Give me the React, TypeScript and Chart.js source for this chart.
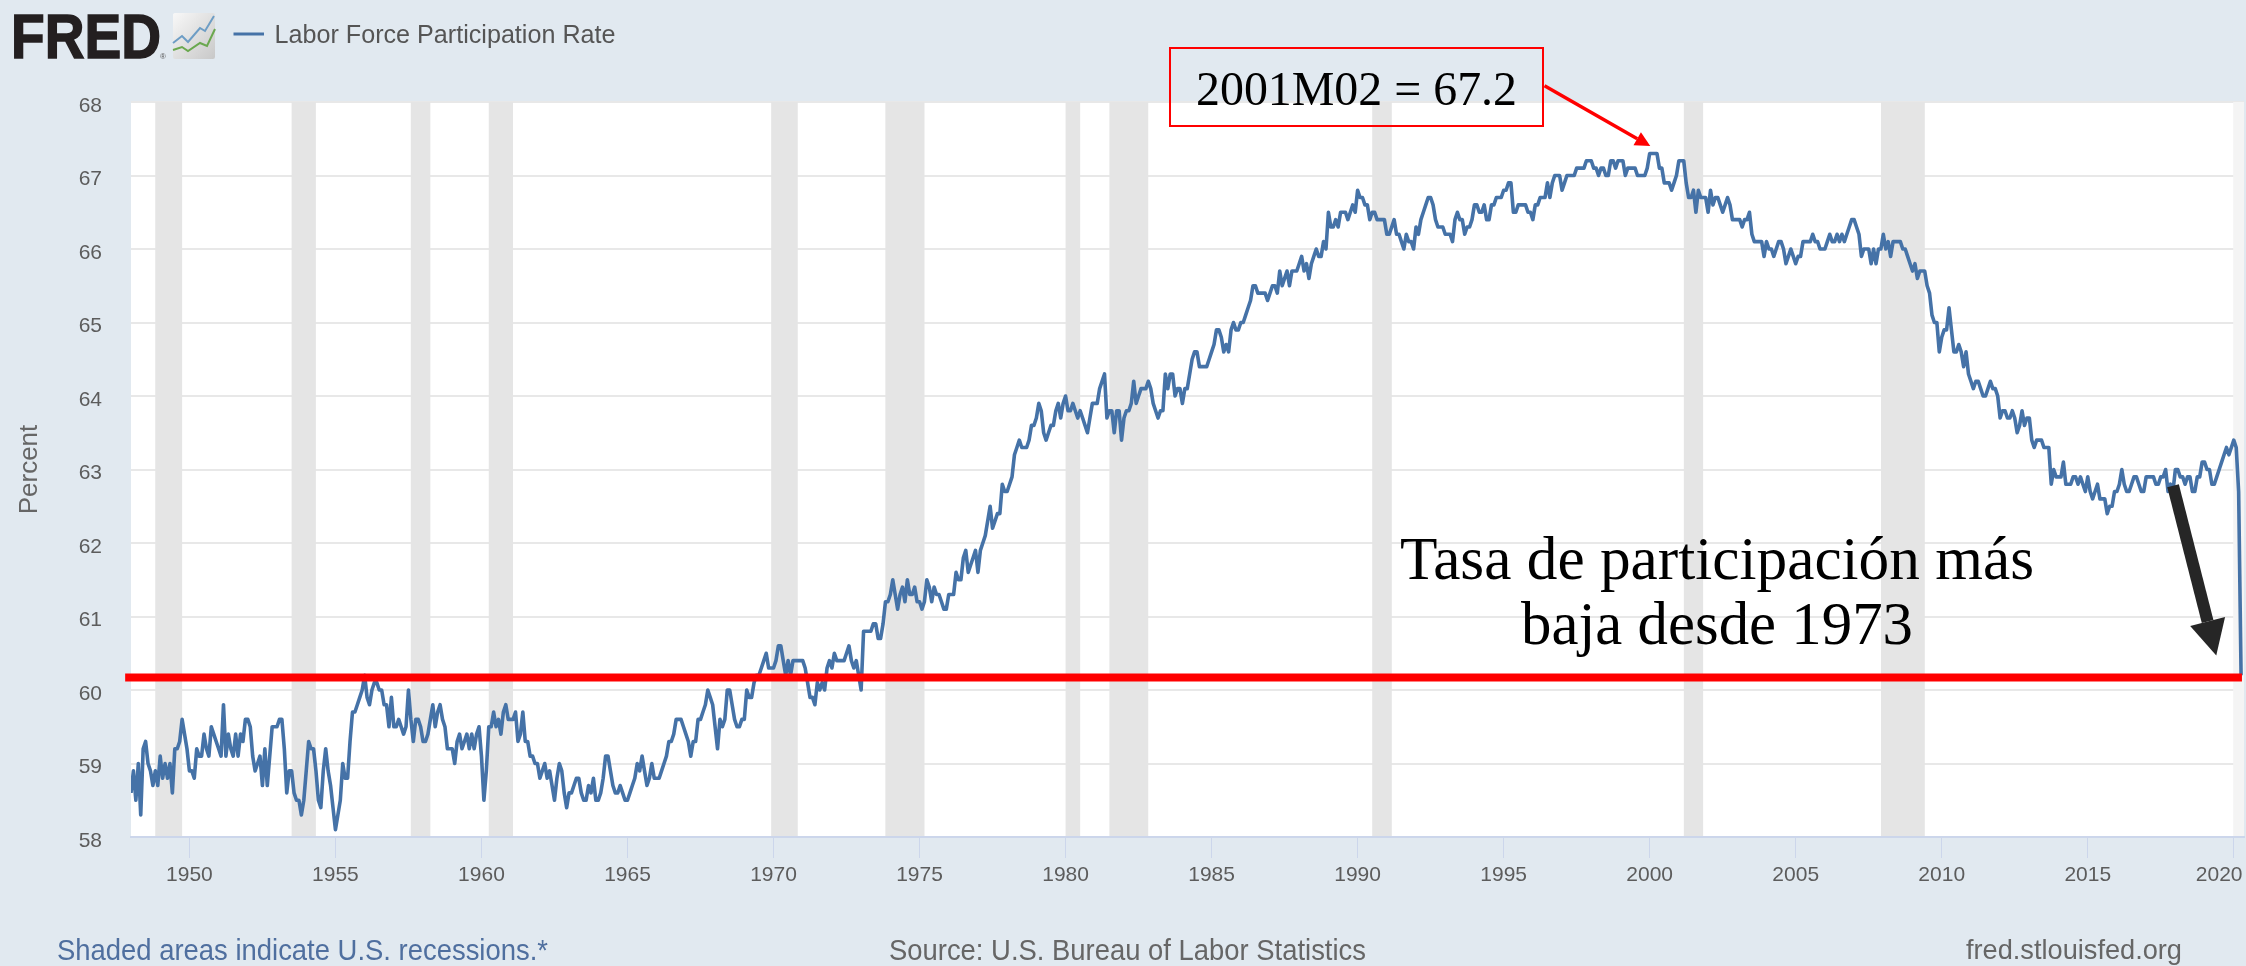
import React, { useEffect, useRef } from "react";
import { Chart, registerables } from "chart.js";

Chart.register(...registerables);

const START_YEAR = 1948;

const rate1948to1959 = [
  58.6,58.9,58.5,59.0,58.3,59.2,59.3,59.0,58.9,58.7,58.9,58.7,
  59.1,58.8,59.0,58.8,59.0,58.6,59.2,59.2,59.3,59.6,59.4,59.2,
  58.9,58.9,58.8,59.2,59.1,59.1,59.4,59.2,59.1,59.5,59.4,59.3,
  59.2,59.1,59.8,59.1,59.4,59.2,59.1,59.4,59.1,59.4,59.3,59.6,
  59.6,59.5,59.1,58.9,59.0,59.1,58.7,59.2,58.7,59.1,59.5,59.5,
  59.5,59.6,59.6,59.2,58.6,58.9,58.9,58.6,58.5,58.5,58.3,58.5,
  58.9,59.3,59.2,59.2,58.9,58.5,58.4,58.9,59.2,58.9,58.7,58.4,
  58.1,58.3,58.5,59.0,58.8,58.8,59.3,59.7,59.7,59.8,59.9,60.0,
  60.2,59.9,59.8,60.0,60.1,60.1,60.0,60.0,59.8,59.8,59.5,59.9,
  59.5,59.5,59.6,59.5,59.4,59.5,60.0,59.6,59.3,59.6,59.6,59.5,
  59.3,59.3,59.4,59.6,59.8,59.5,59.7,59.8,59.6,59.5,59.2,59.2,
  59.2,59.0,59.3,59.4,59.2,59.3,59.4,59.2,59.4,59.2,59.4,59.5,
];
const rate1960to1969 = [
  59.1,58.5,58.9,59.5,59.5,59.7,59.5,59.6,59.4,59.7,59.8,59.6,
  59.6,59.6,59.7,59.3,59.4,59.7,59.3,59.3,59.1,59.1,59.0,59.0,
  58.8,58.9,59.0,58.8,58.9,58.7,58.5,58.8,59.0,58.9,58.6,58.4,
  58.6,58.6,58.7,58.8,58.8,58.6,58.5,58.5,58.7,58.6,58.8,58.5,
  58.5,58.6,58.8,59.1,59.1,58.9,58.7,58.6,58.6,58.7,58.6,58.5,
  58.5,58.6,58.7,58.8,59.0,58.9,59.1,58.9,58.7,58.8,59.0,58.8,
  58.8,58.8,58.9,59.0,59.1,59.3,59.3,59.4,59.6,59.6,59.6,59.5,
  59.4,59.3,59.1,59.3,59.3,59.6,59.6,59.7,59.8,60.0,59.9,59.8,
  59.5,59.2,59.6,59.5,59.6,60.0,60.0,59.8,59.6,59.5,59.5,59.6,
  59.6,60.0,59.9,59.9,60.1,60.2,60.2,60.3,60.4,60.5,60.3,60.3,
];
const rate1970to1979 = [
  60.3,60.4,60.6,60.6,60.4,60.2,60.4,60.2,60.4,60.4,60.4,60.4,
  60.4,60.3,60.1,59.9,59.9,59.8,60.1,60.0,60.1,60.0,60.3,60.4,
  60.3,60.5,60.4,60.4,60.4,60.4,60.5,60.6,60.4,60.3,60.4,60.2,
  60.0,60.8,60.8,60.8,60.8,60.9,60.9,60.7,60.7,60.9,61.2,61.2,
  61.3,61.5,61.3,61.1,61.3,61.4,61.2,61.5,61.3,61.3,61.4,61.2,
  61.2,61.1,61.2,61.5,61.4,61.2,61.4,61.3,61.3,61.2,61.1,61.1,
  61.3,61.3,61.3,61.6,61.5,61.5,61.8,61.9,61.6,61.7,61.8,61.9,
  61.6,61.9,62.0,62.1,62.3,62.5,62.2,62.3,62.4,62.4,62.8,62.7,
  62.7,62.8,62.9,63.2,63.3,63.4,63.3,63.3,63.3,63.4,63.6,63.6,
  63.7,63.9,63.8,63.5,63.4,63.5,63.6,63.6,63.8,63.9,63.7,63.9,
];
const rate1980to1989 = [
  64.0,63.8,63.8,63.9,63.8,63.7,63.8,63.7,63.6,63.5,63.7,63.9,
  63.9,63.9,64.1,64.2,64.3,63.7,63.8,63.8,63.5,63.8,63.8,63.4,
  63.7,63.8,63.8,63.9,64.2,63.9,64.0,64.1,64.1,64.1,64.2,64.1,
  63.9,63.8,63.7,63.8,63.8,64.3,64.1,64.3,64.3,64.0,64.1,64.1,
  63.9,64.1,64.1,64.3,64.5,64.6,64.6,64.4,64.4,64.4,64.4,64.5,
  64.6,64.7,64.9,64.9,64.8,64.6,64.7,64.6,64.9,65.0,64.9,64.9,
  65.0,65.0,65.1,65.2,65.3,65.5,65.5,65.4,65.4,65.4,65.4,65.3,
  65.4,65.5,65.5,65.4,65.7,65.5,65.6,65.7,65.5,65.7,65.7,65.7,
  65.8,65.9,65.7,65.8,65.6,65.8,65.9,66.0,65.9,65.9,66.1,66.0,
  66.5,66.3,66.3,66.4,66.3,66.5,66.5,66.5,66.4,66.5,66.6,66.5,
];
const rate1990to1999 = [
  66.8,66.7,66.7,66.6,66.6,66.4,66.5,66.5,66.4,66.4,66.4,66.4,
  66.2,66.2,66.3,66.4,66.2,66.2,66.1,66.0,66.2,66.1,66.1,66.0,
  66.3,66.2,66.4,66.5,66.6,66.7,66.7,66.6,66.4,66.3,66.3,66.3,
  66.2,66.2,66.2,66.1,66.4,66.5,66.4,66.4,66.2,66.3,66.3,66.4,
  66.6,66.6,66.5,66.5,66.6,66.4,66.4,66.6,66.6,66.7,66.7,66.7,
  66.8,66.8,66.9,66.9,66.5,66.5,66.6,66.6,66.6,66.6,66.5,66.5,
  66.4,66.6,66.6,66.7,66.7,66.7,66.9,66.7,66.9,67.0,67.0,67.0,
  66.8,66.9,67.0,67.0,67.0,67.0,67.1,67.1,67.1,67.1,67.2,67.2,
  67.2,67.1,67.1,67.0,67.1,67.1,67.0,67.0,67.2,67.2,67.1,67.2,
  67.2,67.2,67.0,67.1,67.1,67.1,67.1,67.0,67.0,67.0,67.0,67.1,
];
const rate2000to2009 = [
  67.3,67.3,67.3,67.3,67.1,67.1,66.9,66.9,66.9,66.8,66.9,67.0,
  67.2,67.2,67.2,66.9,66.7,66.7,66.8,66.5,66.8,66.7,66.7,66.7,
  66.5,66.8,66.6,66.7,66.7,66.6,66.5,66.6,66.7,66.6,66.4,66.4,
  66.4,66.4,66.3,66.4,66.4,66.5,66.2,66.1,66.1,66.1,66.1,65.9,
  66.1,66.0,66.0,65.9,66.0,66.1,66.1,66.0,65.8,65.9,66.0,65.9,
  65.8,65.9,65.9,66.1,66.1,66.1,66.1,66.2,66.1,66.1,66.0,66.0,
  66.0,66.1,66.2,66.1,66.1,66.2,66.1,66.2,66.1,66.2,66.3,66.4,
  66.4,66.3,66.2,65.9,66.0,66.0,66.0,65.8,66.0,65.8,66.0,66.0,
  66.2,66.0,66.1,65.9,66.1,66.1,66.1,66.1,66.0,66.0,65.9,65.8,
  65.7,65.8,65.6,65.7,65.7,65.7,65.5,65.4,65.1,65.0,65.0,64.6,
];
const rate2010to2020 = [
  64.8,64.9,64.9,65.2,64.9,64.6,64.6,64.7,64.6,64.4,64.6,64.3,
  64.2,64.1,64.2,64.2,64.1,64.0,64.0,64.1,64.2,64.1,64.1,64.0,
  63.7,63.8,63.8,63.7,63.7,63.8,63.7,63.5,63.6,63.8,63.6,63.7,
  63.7,63.4,63.3,63.4,63.4,63.4,63.3,63.3,63.3,62.8,63.0,62.9,
  62.9,62.9,63.1,62.8,62.8,62.8,62.9,62.9,62.8,62.9,62.8,62.7,
  62.9,62.7,62.6,62.7,62.8,62.6,62.6,62.6,62.4,62.5,62.5,62.7,
  62.7,62.8,63.0,62.8,62.7,62.7,62.8,62.9,62.9,62.8,62.7,62.7,
  62.9,62.9,62.9,62.9,62.8,62.8,62.9,62.9,63.0,62.7,62.8,62.7,
  63.0,63.0,62.9,62.9,62.8,62.9,62.9,62.7,62.7,62.9,62.9,63.1,
  63.1,63.0,63.0,62.8,62.8,62.9,63.0,63.1,63.2,63.3,63.2,63.3,
  63.4,63.3,62.7,60.2,
];
const participationRate = [
  ...rate1948to1959, ...rate1960to1969, ...rate1970to1979,
  ...rate1980to1989, ...rate1990to1999, ...rate2000to2009, ...rate2010to2020,
];

const recessions = [
  [1948.83, 1949.75], [1953.5, 1954.33], [1957.58, 1958.25], [1960.25, 1961.08],
  [1969.92, 1970.83], [1973.83, 1975.17], [1980.0, 1980.5], [1981.5, 1982.83],
  [1990.5, 1991.17], [2001.17, 2001.83], [2007.92, 2009.42],
];
const openRecession = [2019.98, 2020.35];

const xTickYears = [1950,1955,1960,1965,1970,1975,1980,1985,1990,1995,2000,2005,2010,2015,2020];
const yTickValues = [58,59,60,61,62,63,64,65,66,67,68];

const floorLevel = 60.17;
const floorLineYears = [1947.8, 2020.28];

const peakArrow = { from: [1996.4, 68.22], to: [2000.02, 67.4] };
const lowArrow = { from: [2017.92, 62.78], to: [2019.4, 60.47] };

const X_MIN = 1948;
const X_MAX = 2020.35;
const Y_MIN = 58;
const Y_MAX = 68;

const SANS = '"Liberation Sans", Arial, sans-serif';
const SERIF = '"Liberation Serif", "Times New Roman", serif';
const PAGE_BG = "#e1e9f0";
const AXIS_LINE = "#ccd6eb";
const TICK_TEXT = "#5c5c5c";

function drawArrow(ctx: any, chart: any, arrow: any, color: string, shaft: number, headLen: number, headWidth: number) {
  const { x, y } = chart.scales;
  const x0 = x.getPixelForValue(arrow.from[0]);
  const y0 = y.getPixelForValue(arrow.from[1]);
  const x1 = x.getPixelForValue(arrow.to[0]);
  const y1 = y.getPixelForValue(arrow.to[1]);
  const a = Math.atan2(y1 - y0, x1 - x0);
  const bx = x1 - headLen * Math.cos(a);
  const by = y1 - headLen * Math.sin(a);
  ctx.save();
  ctx.strokeStyle = color;
  ctx.fillStyle = color;
  ctx.lineWidth = shaft;
  ctx.lineCap = "butt";
  ctx.beginPath();
  ctx.moveTo(x0, y0);
  ctx.lineTo(bx, by);
  ctx.stroke();
  const nx = -Math.sin(a) * headWidth / 2;
  const ny = Math.cos(a) * headWidth / 2;
  ctx.beginPath();
  ctx.moveTo(x1, y1);
  ctx.lineTo(bx + nx, by + ny);
  ctx.lineTo(bx - nx, by - ny);
  ctx.closePath();
  ctx.fill();
  ctx.restore();
}

const plotBackground = {
  id: "plotBackground",
  beforeDraw(chart: any) {
    const { ctx, chartArea: a } = chart;
    ctx.save();
    ctx.fillStyle = "#ffffff";
    ctx.fillRect(a.left, a.top, a.right - a.left, a.bottom - a.top);
    ctx.restore();
  },
};

const recessionBands = {
  id: "recessionBands",
  beforeDatasetsDraw(chart: any) {
    const { ctx, chartArea: a, scales } = chart;
    const band = (r: number[], color: string) => {
      const l = scales.x.getPixelForValue(r[0]);
      const rr = Math.min(scales.x.getPixelForValue(r[1]), a.right);
      ctx.fillStyle = color;
      ctx.fillRect(l, a.top, rr - l, a.bottom - a.top - 1);
    };
    ctx.save();
    recessions.forEach((r) => band(r, "#e5e5e5"));
    band(openRecession, "#f4f4f4");
    ctx.restore();
  },
};

const arrows = {
  id: "arrows",
  afterDatasetsDraw(chart: any) {
    drawArrow(chart.ctx, chart, peakArrow, "#ff0000", 3.5, 15, 15);
    drawArrow(chart.ctx, chart, lowArrow, "#262626", 12, 35, 36);
  },
};

export default function App() {
  const ref = useRef<HTMLCanvasElement | null>(null);

  useEffect(() => {
    const series = participationRate.map((v, i) => ({ x: START_YEAR + i / 12, y: v }));
    const chart = new Chart(ref.current as HTMLCanvasElement, {
      type: "line",
      data: {
        datasets: [
          {
            label: "Labor Force Participation Rate",
            data: series,
            borderColor: "#4572a7",
            borderWidth: 3.6,
            borderJoinStyle: "round",
            pointRadius: 0,
            tension: 0,
            order: 2,
          },
          {
            label: "Tasa mínima",
            data: floorLineYears.map((yr) => ({ x: yr, y: floorLevel })),
            borderColor: "#ff0000",
            borderWidth: 8,
            pointRadius: 0,
            clip: false,
            order: 1,
          },
        ],
      },
      options: {
        animation: false,
        responsive: false,
        parsing: false,
        layout: { padding: { top: 102, left: 0, right: 2, bottom: 0 } },
        plugins: { legend: { display: false }, title: { display: false }, tooltip: { enabled: false } },
        scales: {
          x: {
            type: "linear",
            min: X_MIN,
            max: X_MAX,
            afterBuildTicks(s: any) {
              s.ticks = xTickYears.map((v) => ({ value: v }));
            },
            afterFit(s: any) {
              s.height = 129;
              s.paddingLeft = 0;
              s.paddingRight = 0;
            },
            grid: { drawOnChartArea: false, drawTicks: true, tickLength: 21, tickColor: AXIS_LINE, tickWidth: 1 },
            border: { display: true, color: AXIS_LINE, width: 2 },
            ticks: {
              autoSkip: false,
              maxRotation: 0,
              minRotation: 0,
              padding: 5,
              color: TICK_TEXT,
              font: { family: SANS, size: 21 },
              callback: (v: any) => (v === 2020 ? "2020     " : String(v)),
            },
          },
          y: {
            type: "linear",
            min: Y_MIN,
            max: Y_MAX,
            afterBuildTicks(s: any) {
              s.ticks = yTickValues.map((v) => ({ value: v }));
            },
            afterFit(s: any) {
              s.width = 131;
              s.paddingTop = 0;
              s.paddingBottom = 0;
            },
            grid: { color: "#e8e8e8", lineWidth: 2, drawTicks: false },
            border: { display: false },
            ticks: {
              padding: 29,
              labelOffset: 4,
              color: TICK_TEXT,
              font: { family: SANS, size: 21 },
              callback: (v: any) => String(v),
            },
            title: {
              display: true,
              text: "Percent",
              color: "#666666",
              padding: { top: 14, bottom: 0 },
              font: { family: SANS, size: 26, weight: "normal" },
            },
          },
        },
      },
      plugins: [plotBackground, recessionBands, arrows],
    } as any);
    return () => chart.destroy();
  }, []);

  return (
    <div style={{ position: "absolute", left: 0, top: 0, width: 2246, height: 966, background: PAGE_BG, overflow: "hidden" }}>
      <canvas ref={ref} width={2246} height={966} style={{ display: "block", width: 2246, height: 966 }} />
      <svg width={2246} height={966} style={{ position: "absolute", left: 0, top: 0, pointerEvents: "none" }}>
        <defs>
          <linearGradient id="logoBg" x1="0" y1="0" x2="1" y2="1">
            <stop offset="0" stopColor="#f8f8f8" />
            <stop offset="1" stopColor="#c8c8c8" />
          </linearGradient>
        </defs>
        <text x={11} y={57.5} fontFamily={SANS} fontWeight="bold" fontSize={63} fill="#231f20" stroke="#231f20" strokeWidth={1.5} textLength={150} lengthAdjust="spacingAndGlyphs">FRED</text>
        <text x={160} y={59} fontFamily={SANS} fontSize={8} fill="#555555">®</text>
        <rect x={173} y={13} width={42} height={46} rx={2} fill="url(#logoBg)" />
        <polyline points="173,43 182,36 188,42 200,28 205,31 214,16" fill="none" stroke="#6d9dc5" strokeWidth={2} />
        <polyline points="173,50 182,47 188,51 200,43 207,46 215,29" fill="none" stroke="#6aa84f" strokeWidth={2} />
        <line x1={233.5} y1={34} x2={264} y2={34} stroke="#4572a7" strokeWidth={3} />
        <text x={274.5} y={43} fontFamily={SANS} fontSize={26} fill="#555555" textLength={341} lengthAdjust="spacingAndGlyphs">Labor Force Participation Rate</text>

        <rect x={1170} y={48} width={373} height={78} fill="none" stroke="#ff0000" strokeWidth={2} />
        <text x={1196} y={105} fontFamily={SERIF} fontSize={48} fill="#000000" textLength={321} lengthAdjust="spacingAndGlyphs">2001M02 = 67.2</text>

        <text x={1400} y={579} fontFamily={SERIF} fontSize={61} fill="#000000" textLength={634} lengthAdjust="spacingAndGlyphs">Tasa de participación más</text>
        <text x={1521} y={644} fontFamily={SERIF} fontSize={61} fill="#000000" textLength={392} lengthAdjust="spacingAndGlyphs">baja desde 1973</text>

        <text x={57} y={960} fontFamily={SANS} fontSize={29} fill="#4f6f9f" textLength={491} lengthAdjust="spacingAndGlyphs">Shaded areas indicate U.S. recessions.*</text>
        <text x={889} y={960} fontFamily={SANS} fontSize={29} fill="#666666" textLength={477} lengthAdjust="spacingAndGlyphs">Source: U.S. Bureau of Labor Statistics</text>
        <text x={1966} y={959} fontFamily={SANS} fontSize={28} fill="#666666" textLength={216} lengthAdjust="spacingAndGlyphs">fred.stlouisfed.org</text>
      </svg>
    </div>
  );
}
